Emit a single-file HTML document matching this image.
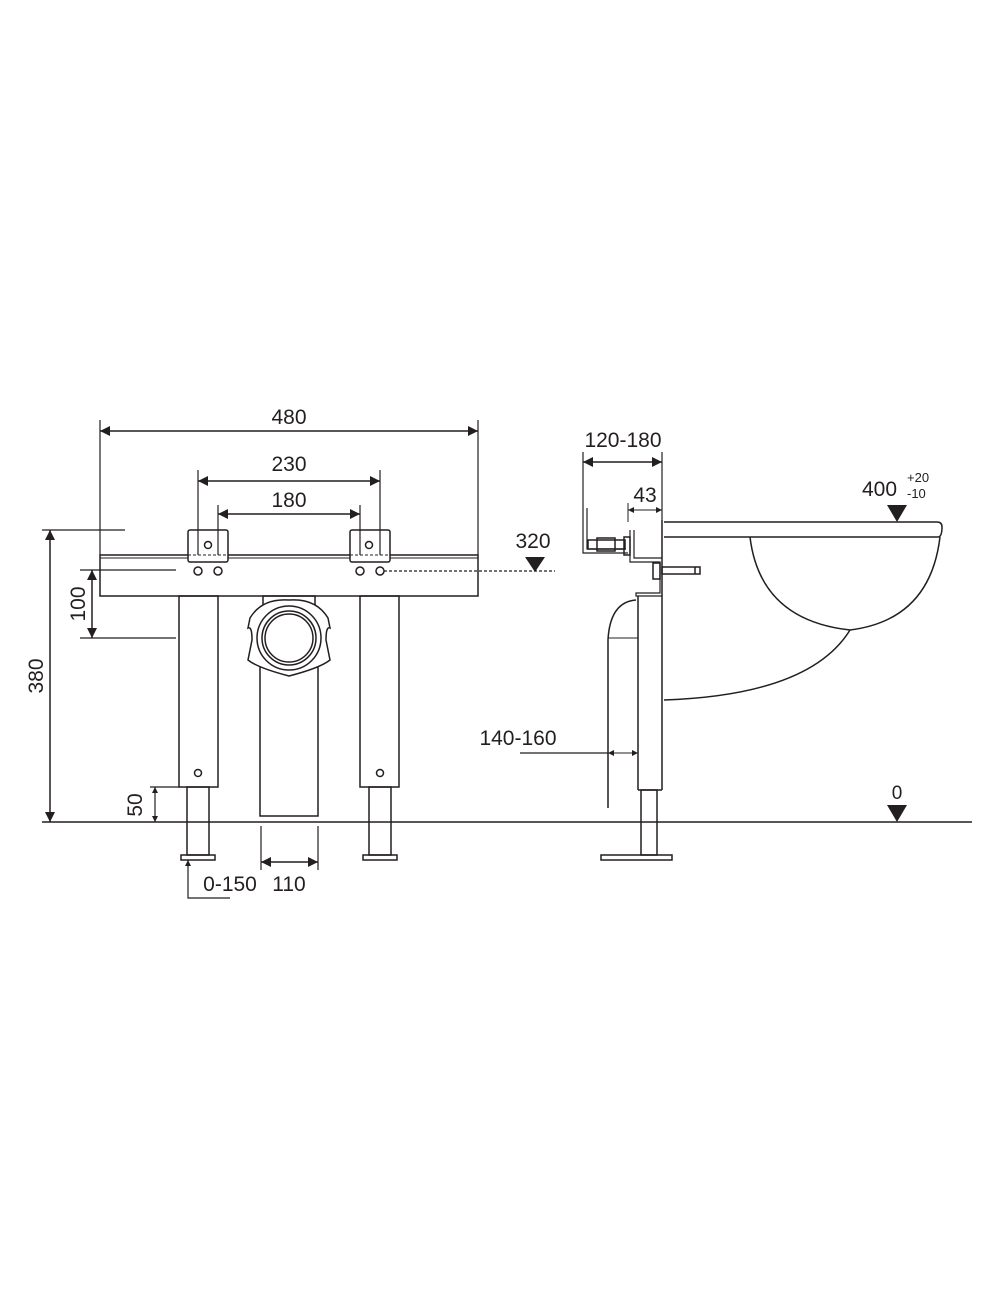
<!DOCTYPE html>
<html><head><style>body{margin:0;background:#fff}svg{display:block}text{font-family:"Liberation Sans",sans-serif;fill:#231f20}</style></head><body>
<svg width="1000" height="1309" viewBox="0 0 1000 1309" xmlns="http://www.w3.org/2000/svg">
<defs>
<marker id="a" viewBox="0 0 10 10" refX="10" refY="5" markerWidth="9" markerHeight="6" orient="auto-start-reverse" markerUnits="userSpaceOnUse"><path d="M0,0L10,5L0,10z" fill="#231f20"/></marker>
<marker id="b" viewBox="0 0 10 10" refX="10" refY="5" markerWidth="22" markerHeight="10" orient="auto-start-reverse" markerUnits="userSpaceOnUse"><path d="M0,0L10,5L0,10z" fill="#231f20"/></marker>
</defs>
<g stroke="#231f20" stroke-width="1.5" fill="none">
<line x1="42" y1="822" x2="972" y2="822"/>
<rect x="100" y="555" width="378" height="41"/>
<line x1="100" y1="558" x2="478" y2="558" stroke-width="1"/>
<rect x="188" y="530" width="40" height="32" rx="2" fill="#fff"/>
<rect x="350" y="530" width="40" height="32" rx="2" fill="#fff"/>
<line x1="188" y1="555" x2="228" y2="555" stroke-dasharray="3,2" stroke-width="1"/>
<line x1="350" y1="555" x2="390" y2="555" stroke-dasharray="3,2" stroke-width="1"/>
<circle cx="208" cy="545" r="3.5"/><circle cx="369" cy="545" r="3.5"/>
<circle cx="198" cy="571" r="4"/><circle cx="218" cy="571" r="4"/>
<circle cx="360" cy="571" r="4"/><circle cx="380" cy="571" r="4"/>
<line x1="384" y1="571" x2="555" y2="571" stroke-dasharray="3,2" stroke-width="1.2"/>
<rect x="179" y="596" width="39" height="191"/>
<rect x="360" y="596" width="39" height="191"/>
<circle cx="198" cy="773" r="3.5"/><circle cx="380" cy="773" r="3.5"/>
<rect x="187" y="787" width="22" height="68"/>
<rect x="369" y="787" width="22" height="68"/>
<rect x="181" y="855" width="34" height="5"/>
<rect x="363" y="855" width="34" height="5"/>
<rect x="260" y="655" width="58" height="161"/>
<rect x="263" y="596" width="52" height="10"/>
<path d="M250,618 Q262,598 289,600 Q316,598 328,618 L330,628 Q326,626 326,640 L330,660 Q320,668 289,676 Q258,668 248,660 L252,640 Q252,626 248,628Z" fill="#fff"/>
<circle cx="289" cy="638" r="32" fill="#fff"/>
<circle cx="289" cy="638" r="27"/>
<circle cx="289" cy="638" r="24"/>
<line x1="100" y1="420" x2="100" y2="555" stroke-width="1.2"/>
<line x1="478" y1="420" x2="478" y2="555" stroke-width="1.2"/>
<line x1="100" y1="431" x2="478" y2="431" marker-start="url(#b)" marker-end="url(#b)"/>
<line x1="198" y1="470" x2="198" y2="555" stroke-width="1.2"/>
<line x1="380" y1="470" x2="380" y2="555" stroke-width="1.2"/>
<line x1="198" y1="481" x2="380" y2="481" marker-start="url(#b)" marker-end="url(#b)"/>
<line x1="218" y1="505" x2="218" y2="555" stroke-width="1.2"/>
<line x1="360" y1="505" x2="360" y2="555" stroke-width="1.2"/>
<line x1="218" y1="514" x2="360" y2="514" marker-start="url(#b)" marker-end="url(#b)"/>
<line x1="42" y1="530" x2="125" y2="530" stroke-width="1.2"/>
<line x1="50" y1="530" x2="50" y2="822" marker-start="url(#b)" marker-end="url(#b)"/>
<line x1="80" y1="570" x2="176" y2="570" stroke-width="1.2"/>
<line x1="80" y1="638" x2="176" y2="638" stroke-width="1.2"/>
<line x1="92" y1="570" x2="92" y2="638" marker-start="url(#b)" marker-end="url(#b)"/>
<line x1="150" y1="787" x2="180" y2="787" stroke-width="1.2"/>
<line x1="155" y1="787" x2="155" y2="822" marker-start="url(#a)" marker-end="url(#a)" stroke-width="1.2"/>
<polyline points="230,898 188,898 188,860" marker-end="url(#a)" stroke-width="1.2"/>
<line x1="261" y1="826" x2="261" y2="870" stroke-width="1.2"/>
<line x1="318" y1="826" x2="318" y2="870" stroke-width="1.2"/>
<line x1="261" y1="862" x2="318" y2="862" marker-start="url(#b)" marker-end="url(#b)"/>
<!-- side view -->
<line x1="662" y1="520" x2="662" y2="790"/>
<line x1="638" y1="596" x2="638" y2="790"/>
<line x1="638" y1="790" x2="662" y2="790"/>
<rect x="641" y="790" width="16" height="65"/>
<rect x="601" y="855" width="71" height="5"/>
<path d="M583,508 L583,553 L628,553 M587,508 L587,549 L626,549" stroke-width="1.2"/>
<path d="M630,530 L630,562 L660,562 L660,593 L636,593 L636,596 L662,596 M634,530 L634,558 L662,558" stroke-width="1.2"/>
<rect x="588" y="540" width="37" height="9"/>
<rect x="597" y="538" width="18" height="13"/>
<rect x="624" y="537" width="6" height="18"/>
<rect x="653" y="563" width="7" height="16"/>
<rect x="662" y="567" width="38" height="7"/>
<line x1="695" y1="567" x2="695" y2="574"/>
<path d="M608,808 L608,640 Q610,602 636,600"/>
<line x1="608" y1="638" x2="638" y2="638" stroke-width="1"/>
<path d="M664,522 L937,522 Q942,522 942,527 Q942,537 938,537 L664,537" fill="#fff"/>
<path d="M750,537 Q760,620 850,630 Q930,620 940,537"/>
<path d="M850,630 Q810,695 664,700"/>
<line x1="583" y1="452" x2="583" y2="508" stroke-width="1.2"/>
<line x1="662" y1="452" x2="662" y2="520" stroke-width="1.2"/>
<line x1="583" y1="462" x2="662" y2="462" marker-start="url(#b)" marker-end="url(#b)"/>
<line x1="628" y1="503" x2="628" y2="522" stroke-width="1"/>
<line x1="628" y1="510" x2="662" y2="510" marker-start="url(#a)" marker-end="url(#a)" stroke-width="1"/>
<line x1="520" y1="753" x2="608" y2="753" stroke-width="1.2"/>
<line x1="608" y1="753" x2="638" y2="753" marker-start="url(#a)" marker-end="url(#a)" stroke-width="1"/>
</g>
<g fill="#231f20">
<path d="M525,557 L545,557 L535,572Z"/>
<path d="M887,505 L907,505 L897,522Z"/>
<path d="M887,805 L907,805 L897,822Z"/>
</g>
<g font-size="21">
<text x="289" y="424" text-anchor="middle">480</text>
<text x="289" y="471" text-anchor="middle">230</text>
<text x="289" y="507" text-anchor="middle">180</text>
<text x="533" y="548" text-anchor="middle">320</text>
<text x="623" y="447" text-anchor="middle">120-180</text>
<text x="645" y="502" text-anchor="middle">43</text>
<text x="862" y="496">400</text>
<text x="897" y="799" text-anchor="middle" font-size="19">0</text>
<text x="518" y="745" text-anchor="middle">140-160</text>
<text x="230" y="891" text-anchor="middle">0-150</text>
<text x="289" y="891" text-anchor="middle">110</text>
<text transform="translate(43,676) rotate(-90)" text-anchor="middle">380</text>
<text transform="translate(85,604) rotate(-90)" text-anchor="middle">100</text>
<text transform="translate(142,805) rotate(-90)" text-anchor="middle">50</text>
</g>
<text x="907" y="482" font-size="13">+20</text>
<text x="907" y="498" font-size="13">-10</text>
</svg>
</body></html>
